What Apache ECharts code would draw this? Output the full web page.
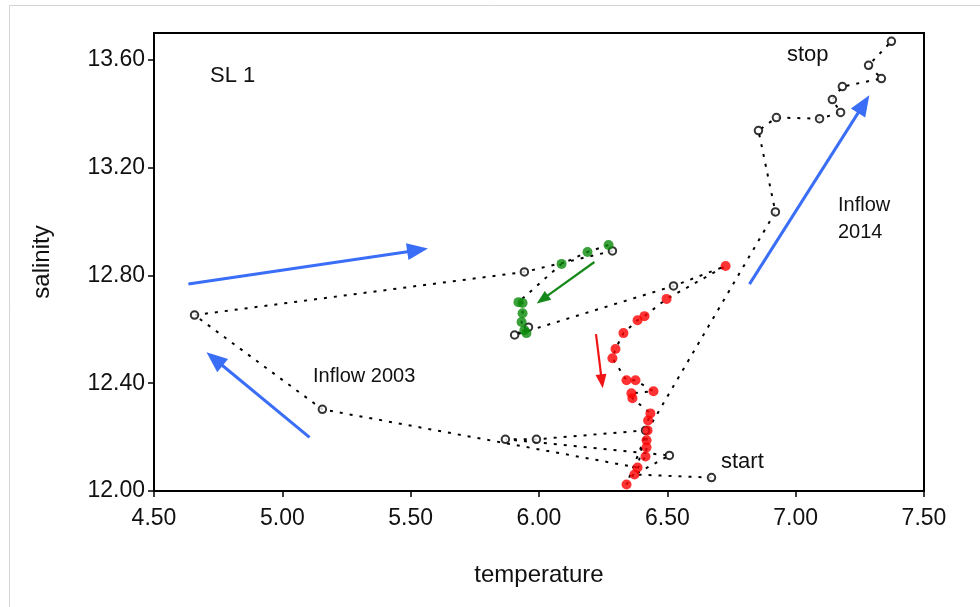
<!DOCTYPE html>
<html>
<head>
<meta charset="utf-8">
<title>SL 1</title>
<script src="https://cdn.jsdelivr.net/npm/echarts@6/dist/echarts.min.js"></script>
<style>
  html, body { margin: 0; padding: 0; background: #fff; }
  #chart { width: 980px; height: 607px; }
</style>
</head>
<body>
<div id="chart"></div>
<script>
// observations in time order (start -> stop)
var temperature = [
  6.672, 6.372, 6.508, 5.869, 5.990, 6.415, 6.384, 5.156, 4.658, 5.943,
  6.286, 6.271, 6.189, 6.088, 5.920, 5.936, 5.936, 5.932, 5.943, 5.951,
  5.959, 5.905, 6.524, 6.727, 6.497, 6.411, 6.384, 6.329, 6.298, 6.286,
  6.341, 6.376, 6.446, 6.360, 6.364, 6.434, 6.425, 6.419, 6.419, 6.415,
  6.341, 6.423, 6.921, 6.855, 6.925, 7.093, 7.175, 7.143, 7.182, 7.334,
  7.284, 7.373
];
var salinity = [
  12.050, 12.061, 12.132, 12.192, 12.192, 12.225, 12.087, 12.303, 12.653, 12.813,
  12.891, 12.913, 12.887, 12.843, 12.701, 12.698, 12.660, 12.627, 12.597, 12.586,
  12.608, 12.579, 12.761, 12.835, 12.713, 12.649, 12.634, 12.586, 12.527, 12.493,
  12.411, 12.411, 12.370, 12.363, 12.344, 12.288, 12.262, 12.188, 12.162, 12.128,
  12.024, 12.225, 13.036, 13.338, 13.386, 13.382, 13.405, 13.453, 13.501, 13.531,
  13.580, 13.669
];
// marker kind: b = open black, g = green, r = red
var kind = [
  'b','r','b','b','b','b','r','b','b','b',
  'b','g','g','g','g','g','g','g','g','g',
  'b','b','b','r','r','r','r','r','r','r',
  'r','r','r','r','r','r','r','r','r','r',
  'r','r','b','b','b','b','b','b','b','b',
  'b','b'
];
var xTicks = [4.5, 5.0, 5.5, 6.0, 6.5, 7.0, 7.5];
var yTicks = [12.0, 12.4, 12.8, 13.2, 13.6];
// arrows: tail temperature, tail salinity, head temperature, head salinity, colour
var arrows = [
  [4.634, 12.768, 5.527, 12.894, 'blue'],
  [5.106, 12.199, 4.736, 12.490, 'blue'],
  [6.820, 12.768, 7.265, 13.436, 'blue'],
  [6.216, 12.850, 6.013, 12.711, 'green'],
  [6.222, 12.582, 6.245, 12.407, 'red']
];

var FONT = 'Liberation Sans, Arial, sans-serif';
var arrowStyle = {
  blue: { color: '#3b6ef6', width: 3, head: [17, 21] },
  green: { color: '#17881a', width: 2.2, head: [11, 14] },
  red: { color: '#f01414', width: 2.2, head: [11, 14] }
};

function pointsOf(k) {
  var out = [];
  for (var i = 0; i < temperature.length; i++) {
    if (kind[i] === k) out.push([temperature[i], salinity[i]]);
  }
  return out;
}

var pathData = temperature.map(function(t, i) { return [t, salinity[i]]; });

var arrowLines = arrows.map(function(a) {
  var st = arrowStyle[a[4]];
  return [
    { coord: [a[0], a[1]], symbol: 'none', lineStyle: { color: st.color, width: st.width, type: 'solid' } },
    { coord: [a[2], a[3]], symbol: 'triangle', symbolSize: st.head, itemStyle: { color: st.color } }
  ];
});

var chart = echarts.init(document.getElementById('chart'));
var option = {
  animation: false,
  backgroundColor: '#fff',
  grid: {
    left: 154, right: 56, top: 33, bottom: 116,
    containLabel: false,
    outerBoundsMode: 'none',
    show: true,
    borderColor: '#000',
    borderWidth: 2,
    backgroundColor: 'transparent'
  },
  xAxis: {
    type: 'value',
    min: 4.5, max: 7.5, interval: 0.5,
    name: 'temperature',
    nameLocation: 'middle',
    nameGap: 72,
    nameTextStyle: { fontSize: 24, fontFamily: FONT, color: '#111' },
    axisLine: { show: true, onZero: false, lineStyle: { color: '#000', width: 2 } },
    axisTick: { show: true, inside: false, length: 6, customValues: xTicks, lineStyle: { color: '#000', width: 1.5 } },
    axisLabel: {
      customValues: xTicks,
      margin: 16, fontSize: 23, fontFamily: FONT, color: '#111',
      formatter: function(v) { return v.toFixed(2); }
    },
    splitLine: { show: false }
  },
  yAxis: {
    type: 'value',
    min: 12.0, max: 13.7, interval: 0.4,
    name: 'salinity',
    nameLocation: 'middle',
    nameGap: 100,
    nameTextStyle: { fontSize: 24, fontFamily: FONT, color: '#111' },
    axisLine: { show: true, onZero: false, lineStyle: { color: '#000', width: 2 } },
    axisTick: { show: true, inside: false, length: 6, customValues: yTicks, lineStyle: { color: '#000', width: 1.5 } },
    axisLabel: {
      customValues: yTicks,
      margin: 9, fontSize: 23, fontFamily: FONT, color: '#111',
      formatter: function(v) { return v.toFixed(2); }
    },
    splitLine: { show: false }
  },
  series: [
    {
      name: 'path',
      type: 'line',
      data: pathData,
      symbol: 'none',
      silent: true,
      z: 2,
      lineStyle: { color: '#000', width: 2, type: [3, 7] },
      markLine: {
        silent: true,
        symbol: ['none', 'triangle'],
        label: { show: false },
        emphasis: { disabled: true },
        data: arrowLines
      }
    },
    {
      name: 'black',
      type: 'scatter',
      data: pointsOf('b'),
      symbol: 'emptyCircle',
      symbolSize: 7.5,
      z: 3,
      itemStyle: { color: '#000', borderColor: '#000', borderWidth: 2 }
    },
    {
      name: 'green',
      type: 'scatter',
      data: pointsOf('g'),
      symbol: 'circle',
      symbolSize: 10,
      z: 4,
      itemStyle: { color: '#0a8a0a' }
    },
    {
      name: 'red',
      type: 'scatter',
      data: pointsOf('r'),
      symbol: 'circle',
      symbolSize: 10,
      z: 4,
      itemStyle: { color: '#ff0000' }
    }
  ],
  graphic: [
    {
      type: 'rect', z: -1, silent: true,
      shape: { x: 9.5, y: 5.5, width: 1000, height: 700 },
      style: { fill: 'none', stroke: '#d4d4d4', lineWidth: 1 }
    },
    { type: 'text', x: 210, y: 76, style: { text: 'SL 1', fontSize: 22, fontFamily: FONT, fill: '#111', verticalAlign: 'middle' } },
    { type: 'text', x: 787, y: 55, style: { text: 'stop', fontSize: 22, fontFamily: FONT, fill: '#111', verticalAlign: 'middle' } },
    { type: 'text', x: 838, y: 219, style: { text: 'Inflow\n2014', fontSize: 20, lineHeight: 27, fontFamily: FONT, fill: '#111', verticalAlign: 'middle' } },
    { type: 'text', x: 313, y: 376, style: { text: 'Inflow 2003', fontSize: 20, fontFamily: FONT, fill: '#111', verticalAlign: 'middle' } },
    { type: 'text', x: 721, y: 462, style: { text: 'start', fontSize: 22, fontFamily: FONT, fill: '#111', verticalAlign: 'middle' } }
  ]
};
chart.setOption(option);
</script>
</body>
</html>
